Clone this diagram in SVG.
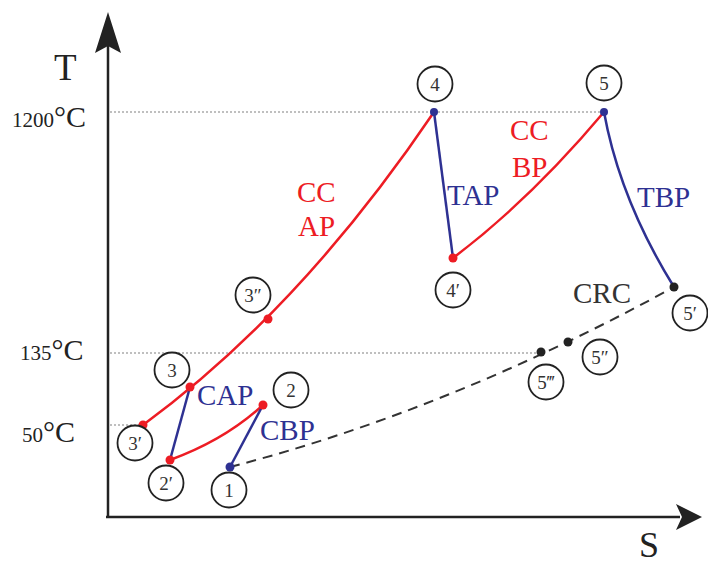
<svg xmlns="http://www.w3.org/2000/svg" width="708" height="565" viewBox="0 0 708 565">
<defs>
<style>
.ax{stroke:#222;stroke-width:2.5;fill:none}
.dot{stroke:#aaa;stroke-width:1.5;stroke-dasharray:2 2;fill:none}
.red{stroke:#ed1c24;stroke-width:2.5;fill:none}
.blue{stroke:#2e3192;stroke-width:2.5;fill:none}
.dash{stroke:#333;stroke-width:2;stroke-dasharray:10 7;fill:none}
.lbl circle{fill:#fff;stroke:#222;stroke-width:1.8}
.lbl text{font-family:"Liberation Serif",serif;font-size:19px;fill:#333;text-anchor:middle}
.t{font-family:"Liberation Serif",serif;font-size:29px}
.r{fill:#ed1c24}.b{fill:#2e3192}.k{fill:#333}
.ylab{font-family:"Liberation Serif",serif;fill:#222}
</style>
</defs>
<g id="axes">
<line class="ax" x1="108" y1="518" x2="108" y2="40"/>
<path d="M108,12 L121,53 L108,46 L95,53 Z" fill="#222"/>
<line class="ax" x1="106" y1="517" x2="680" y2="517"/>
<path d="M702,517 L676,504 L682,517 L676,530 Z" fill="#222"/>
<text x="54" y="80" class="ylab" font-size="37">T</text>
<text x="639" y="557" class="ylab" font-size="36">S</text>
<text x="12" y="127" class="ylab"><tspan font-size="21">1200</tspan><tspan font-size="30">°C</tspan></text>
<text x="20" y="360" class="ylab"><tspan font-size="21">135</tspan><tspan font-size="30">°C</tspan></text>
<text x="22" y="442" class="ylab"><tspan font-size="21">50</tspan><tspan font-size="30">°C</tspan></text>
</g>
<g id="gridlines">
<line class="dot" x1="110" y1="112" x2="604" y2="112"/>
<line class="dot" x1="110" y1="353" x2="540" y2="353"/>
<line class="dot" x1="110" y1="425" x2="143" y2="425"/>
</g>
<g id="connectors">
<path class="dash" d="M230,467 Q450,410 674,287"/>
<path class="red" d="M143,425 Q300,310 434,112"/>
<line class="blue" x1="190" y1="387" x2="170" y2="460"/>
<path class="red" d="M170,460 Q225,440 263,405"/>
<line class="blue" x1="263" y1="405" x2="230" y2="467"/>
<line class="blue" x1="434" y1="112" x2="453" y2="258"/>
<path class="red" d="M453,258 Q530,200 604,112"/>
<path class="blue" d="M604,112 Q620,200 674,287"/>
</g>
<g id="points">
<circle cx="230" cy="467" r="4.5" fill="#2e3192"/>
<circle cx="263" cy="405" r="4.5" fill="#ed1c24"/>
<circle cx="170" cy="460" r="4.5" fill="#ed1c24"/>
<circle cx="190" cy="387" r="4.5" fill="#ed1c24"/>
<circle cx="143" cy="425" r="4.5" fill="#ed1c24"/>
<circle cx="268" cy="319" r="4.5" fill="#ed1c24"/>
<circle cx="434" cy="112" r="4" fill="#2e3192"/>
<circle cx="453" cy="258" r="4.5" fill="#ed1c24"/>
<circle cx="604" cy="112" r="4" fill="#2e3192"/>
<circle cx="674" cy="287" r="4.5" fill="#222"/>
<circle cx="568" cy="342" r="4.5" fill="#222"/>
<circle cx="541" cy="352" r="4.5" fill="#222"/>
</g>
<g id="n1" class="lbl"><circle cx="229" cy="490" r="17.5"/><text x="229" y="497">1</text></g>
<g id="n2" class="lbl"><circle cx="291" cy="390" r="17.5"/><text x="291" y="397">2</text></g>
<g id="n2p" class="lbl"><circle cx="166" cy="483" r="17.5"/><text x="166" y="490">2′</text></g>
<g id="n3" class="lbl"><circle cx="172" cy="370" r="17.5"/><text x="172" y="377">3</text></g>
<g id="n3p" class="lbl"><circle cx="135" cy="443" r="17.5"/><text x="135" y="450">3′</text></g>
<g id="n3pp" class="lbl"><circle cx="253" cy="295" r="17.5"/><text x="253" y="302">3″</text></g>
<g id="n4" class="lbl"><circle cx="435" cy="84" r="17.5"/><text x="435" y="91">4</text></g>
<g id="n4p" class="lbl"><circle cx="453" cy="290" r="17.5"/><text x="453" y="297">4′</text></g>
<g id="n5" class="lbl"><circle cx="604" cy="83" r="17.5"/><text x="604" y="90">5</text></g>
<g id="n5p" class="lbl"><circle cx="690" cy="313" r="17.5"/><text x="690" y="320">5′</text></g>
<g id="n5pp" class="lbl"><circle cx="600" cy="357" r="17.5"/><text x="600" y="364">5″</text></g>
<g id="n5ppp" class="lbl"><circle cx="546" cy="382" r="17.5"/><text x="546" y="389">5‴</text></g>
<g id="labels">
<text x="297" y="202" class="t r">CC</text>
<text x="298" y="236" class="t r">AP</text>
<text x="447" y="205" class="t b">TAP</text>
<text x="510" y="140" class="t r">CC</text>
<text x="512" y="177" class="t r">BP</text>
<text x="637" y="207" class="t b">TBP</text>
<text x="573" y="303" class="t k">CRC</text>
<text x="197" y="405" class="t b">CAP</text>
<text x="260" y="440" class="t b">CBP</text>
</g>
</svg>
